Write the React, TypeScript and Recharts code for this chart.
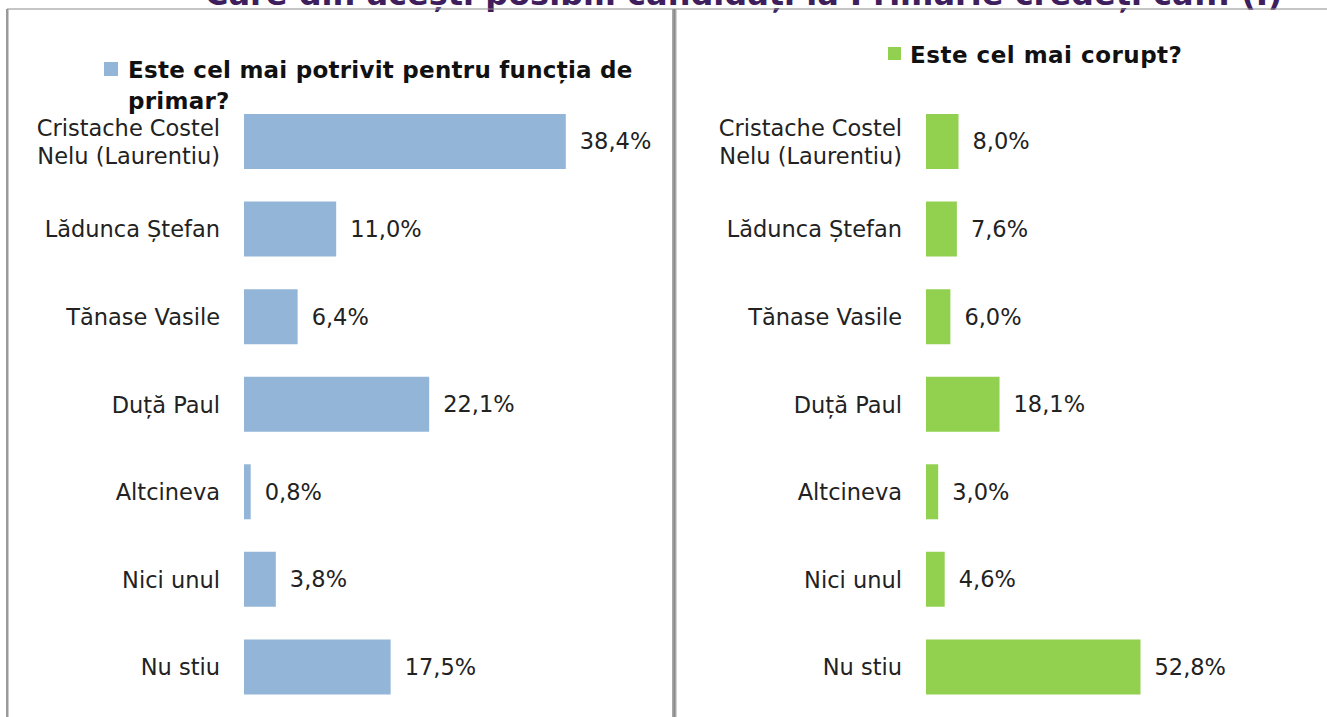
import React from "react";
import { BarChart, Bar, XAxis, YAxis, LabelList } from "recharts";

const categories = [
  "Cristache Costel Nelu (Laurentiu)",
  "Lădunca Ștefan",
  "Tănase Vasile",
  "Duță Paul",
  "Altcineva",
  "Nici unul",
  "Nu stiu",
];
const potrivitValues = [38.4, 11.0, 6.4, 22.1, 0.8, 3.8, 17.5];
const coruptValues = [8.0, 7.6, 6.0, 18.1, 3.0, 4.6, 52.8];
const titleText = "Care din acești posibili candidați la Primărie credeți că... (I)";
const legendLeftLines = ["Este cel mai potrivit pentru funcția de", "primar?"];
const legendRight = "Este cel mai corupt?";

const BLUE = "#93b6d8";
const GREEN = "#92d050";
const FONT = "'DejaVu Sans', sans-serif";
const BOLD_FONT = "'DejaVu Sans', sans-serif";

const data = categories.map((name, i) => ({
  name,
  potrivit: potrivitValues[i],
  corupt: coruptValues[i],
}));

const fmt = (v: any) => Number(v).toFixed(1).replace(".", ",") + "%";

function wrap(label: string): string[] {
  if (label.length <= 16) return [label];
  const mid = label.length / 2;
  let best = -1;
  for (let i = 0; i < label.length; i++) {
    if (label[i] === " " && (best < 0 || Math.abs(i - mid) < Math.abs(best - mid))) best = i;
  }
  if (best < 0) return [label];
  return [label.slice(0, best), label.slice(best + 1)];
}

const CatTick = (props: any) => {
  const { x, y, payload } = props;
  const lines = wrap(String(payload.value));
  const lh = 27.5;
  const start = -((lines.length - 1) * lh) / 2 + 8;
  return (
    <text x={x} y={y} textAnchor="end" fontFamily={FONT} fontSize={22.5} fill="#222">
      {lines.map((l, i) => (
        <tspan key={i} x={x} y={y + start + i * lh}>
          {l}
        </tspan>
      ))}
    </text>
  );
};

const Panel = ({
  dataKey,
  color,
  width,
  axisWidth,
  domainMax,
  rightMargin,
}: any) => (
  <BarChart
    layout="vertical"
    width={width}
    height={717}
    data={data}
    margin={{ top: 98, right: rightMargin, bottom: 6, left: 0 }}
  >
    <XAxis type="number" domain={[0, domainMax]} hide />
    <YAxis
      type="category"
      dataKey="name"
      width={axisWidth}
      axisLine={false}
      tickLine={false}
      tickSize={0}
      tickMargin={24}
      tick={<CatTick />}
      interval={0}
    />
    <Bar dataKey={dataKey} fill={color} barSize={55} isAnimationActive={false}>
      <LabelList
        dataKey={dataKey}
        position="right"
        offset={14}
        formatter={fmt}
        style={{ fontFamily: FONT, fontSize: 22.5, fill: "#222" }}
      />
    </Bar>
  </BarChart>
);

export default function App() {
  return (
    <div
      style={{
        position: "absolute",
        left: 0,
        top: 0,
        width: 1327,
        height: 717,
        overflow: "hidden",
        background: "#ffffff",
      }}
    >
      <div style={{ position: "absolute", left: 0, top: 0 }}>
        <Panel dataKey="potrivit" color={BLUE} width={672} axisWidth={244} domainMax={50} rightMargin={9} />
      </div>
      <div style={{ position: "absolute", left: 676, top: 0 }}>
        <Panel dataKey="corupt" color={GREEN} width={651} axisWidth={250} domainMax={80} rightMargin={76} />
      </div>
      <svg
        width={1327}
        height={717}
        style={{ position: "absolute", left: 0, top: 0, pointerEvents: "none" }}
      >
        <text x={205} y={5} fontFamily={BOLD_FONT} fontWeight="bold" fontSize={32} fill="#3f1e5e">
          {titleText}
        </text>
        <rect x={7} y={8.5} width={1320} height={1} fill="#8c8c8c" />
        <rect x={6} y={9} width={2.5} height={708} fill="#9a9a9a" />
        <rect x={672} y={9} width={4.5} height={708} fill="#a8a8a8" />
        <rect x={673.5} y={9} width={1.5} height={708} fill="#8a8a8a" />

        <rect x={104} y={62} width={14} height={14} fill={BLUE} />
        <text fontFamily={BOLD_FONT} fontWeight="bold" fontSize={23} letterSpacing={0.25} fill="#111">
          {legendLeftLines.map((l, i) => (
            <tspan key={i} x={128} y={78 + i * 31}>
              {l}
            </tspan>
          ))}
        </text>
        <rect x={888} y={47} width={13} height={13} fill={GREEN} />
        <text x={910} y={63} fontFamily={BOLD_FONT} fontWeight="bold" fontSize={23} letterSpacing={0.5} fill="#111">
          {legendRight}
        </text>
      </svg>
    </div>
  );
}
